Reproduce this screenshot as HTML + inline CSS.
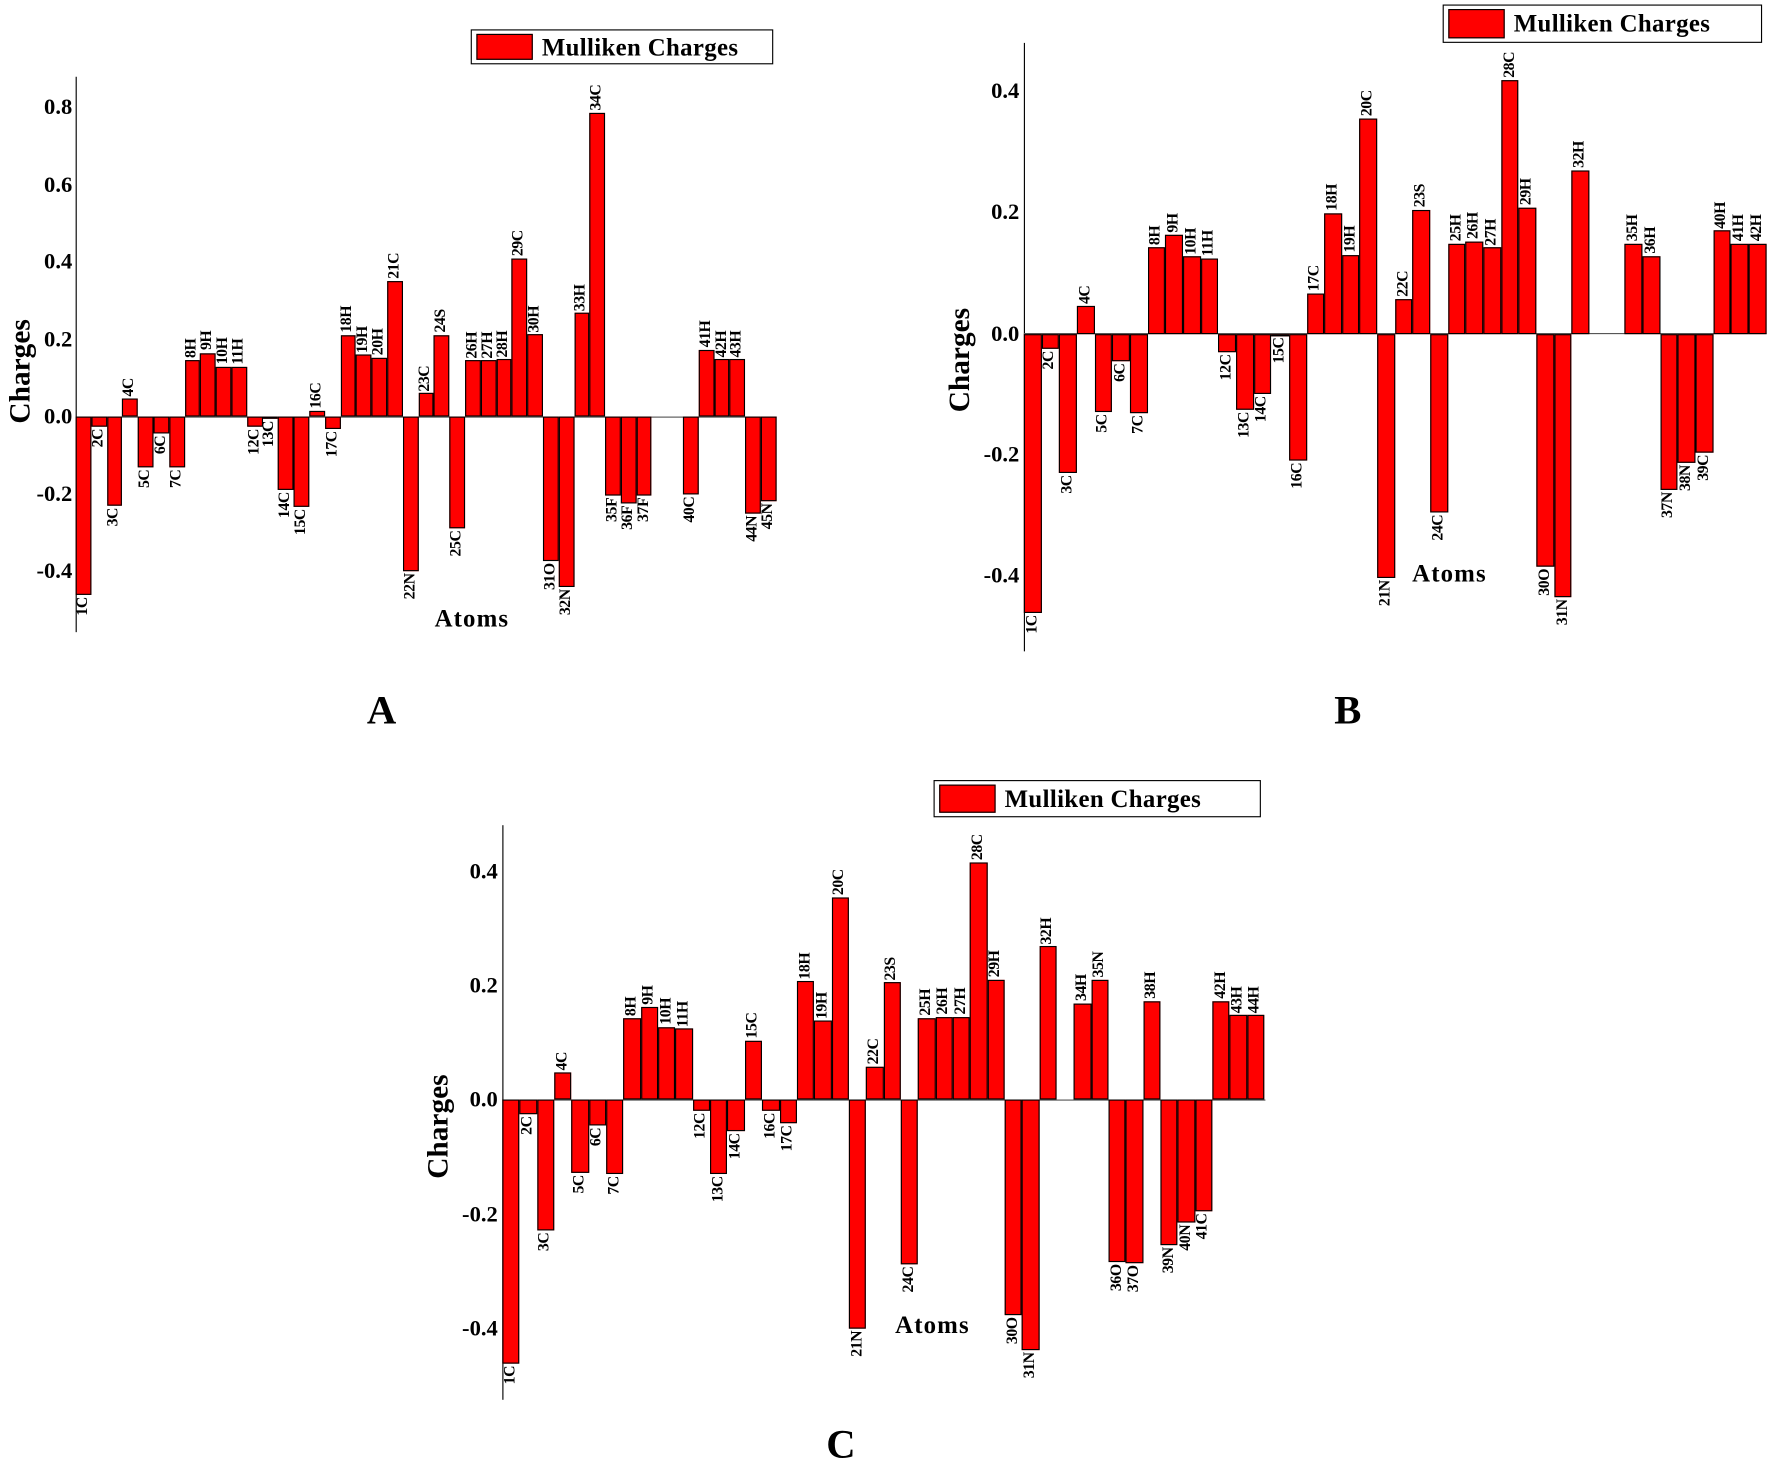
<!DOCTYPE html>
<html><head><meta charset="utf-8"><style>
html,body{margin:0;padding:0;background:#fff;}
body{width:1770px;height:1463px;overflow:hidden;position:relative;}
#v{position:absolute;left:0;top:0;width:1568px;height:1296px;transform:scale(1.12883,1.12886);transform-origin:0 0;font-family:"Liberation Serif",serif;}
.ch{position:absolute;display:flex;height:0;}
.c{position:relative;width:var(--w);height:0;flex:none;}
.c i{position:absolute;left:0;right:0;background:#f00;border:1.3px solid #000;box-sizing:border-box;}
.p i{bottom:0;height:calc(var(--v)*var(--k));}
.n i{top:0;height:calc(var(--v)*-1*var(--k));}
.c b{position:absolute;left:50%;writing-mode:vertical-rl;transform:translateX(-50%) rotate(180deg);font:bold 14px "Liberation Serif",serif;white-space:nowrap;line-height:1;letter-spacing:-0.4px;}
.p b{bottom:calc(var(--v)*var(--k) + 2px);}
.n b{top:calc(var(--v)*-1*var(--k) + 2px);}
.ax{position:absolute;width:1.3px;background:#000;}
.zl{position:absolute;height:1.3px;background:#555;}
.t{position:absolute;font-weight:bold;font-size:20px;text-align:right;width:62px;line-height:20px;}
.yl{position:absolute;font-weight:bold;font-size:26px;transform:rotate(-90deg);transform-origin:center;white-space:nowrap;}
.xl{position:absolute;font-weight:bold;font-size:22px;letter-spacing:1px;}
.lg{position:absolute;border:1.5px solid #000;box-sizing:border-box;background:#fff;}
.lg span{position:absolute;left:4px;top:3px;bottom:3px;width:50px;background:#f00;border:1.3px solid #000;box-sizing:border-box;}
.lg em{position:absolute;left:62px;top:50%;transform:translateY(-50%);font-style:normal;font-weight:bold;font-size:22px;letter-spacing:0.3px;white-space:nowrap;}
.big{position:absolute;font-weight:bold;font-size:36px;}
</style></head><body><div id="v">

<!-- Chart A -->
<div class="lg" style="left:417px;top:26px;width:268px;height:31px"><span></span><em>Mulliken Charges</em></div>
<div class="ax" style="left:67px;top:68px;height:492px"></div>
<div class="zl" style="left:67px;top:368.5px;width:621px"></div>
<div class="t" style="left:2px;top:85px">0.8</div>
<div class="t" style="left:2px;top:153.5px">0.6</div>
<div class="t" style="left:2px;top:222px">0.4</div>
<div class="t" style="left:2px;top:290.5px">0.2</div>
<div class="t" style="left:2px;top:359px">0.0</div>
<div class="t" style="left:2px;top:427.5px">-0.2</div>
<div class="t" style="left:2px;top:496px">-0.4</div>
<div class="yl" style="left:-28px;top:314px">Charges</div>
<div class="xl" style="left:385px;top:535px">Atoms</div>
<div class="big" style="left:325px;top:608px">A</div>
<div class="ch" style="left:67px;top:369px;--w:13.8px;--k:342.5px">
<div class="c n" style="--v:-.46"><i></i><b>1C</b></div>
<div class="c n" style="--v:-.025"><i></i><b>2C</b></div>
<div class="c n" style="--v:-.23"><i></i><b>3C</b></div>
<div class="c p" style="--v:.047"><i></i><b>4C</b></div>
<div class="c n" style="--v:-.13"><i></i><b>5C</b></div>
<div class="c n" style="--v:-.045"><i></i><b>6C</b></div>
<div class="c n" style="--v:-.13"><i></i><b>7C</b></div>
<div class="c p" style="--v:.145"><i></i><b>8H</b></div>
<div class="c p" style="--v:.165"><i></i><b>9H</b></div>
<div class="c p" style="--v:.128"><i></i><b>10H</b></div>
<div class="c p" style="--v:.128"><i></i><b>11H</b></div>
<div class="c n" style="--v:-.025"><i></i><b>12C</b></div>
<div class="c n" style="--v:-.005"><i></i><b>13C</b></div>
<div class="c n" style="--v:-.19"><i></i><b>14C</b></div>
<div class="c n" style="--v:-.235"><i></i><b>15C</b></div>
<div class="c p" style="--v:.015"><i></i><b>16C</b></div>
<div class="c n" style="--v:-.032"><i></i><b>17C</b></div>
<div class="c p" style="--v:.21"><i></i><b>18H</b></div>
<div class="c p" style="--v:.16"><i></i><b>19H</b></div>
<div class="c p" style="--v:.152"><i></i><b>20H</b></div>
<div class="c p" style="--v:.35"><i></i><b>21C</b></div>
<div class="c n" style="--v:-.40"><i></i><b>22N</b></div>
<div class="c p" style="--v:.06"><i></i><b>23C</b></div>
<div class="c p" style="--v:.21"><i></i><b>24S</b></div>
<div class="c n" style="--v:-.29"><i></i><b>25C</b></div>
<div class="c p" style="--v:.145"><i></i><b>26H</b></div>
<div class="c p" style="--v:.145"><i></i><b>27H</b></div>
<div class="c p" style="--v:.148"><i></i><b>28H</b></div>
<div class="c p" style="--v:.41"><i></i><b>29C</b></div>
<div class="c p" style="--v:.212"><i></i><b>30H</b></div>
<div class="c n" style="--v:-.375"><i></i><b>31O</b></div>
<div class="c n" style="--v:-.44"><i></i><b>32N</b></div>
<div class="c p" style="--v:.268"><i></i><b>33H</b></div>
<div class="c p" style="--v:.785"><i></i><b>34C</b></div>
<div class="c n" style="--v:-.205"><i></i><b>35F</b></div>
<div class="c n" style="--v:-.225"><i></i><b>36F</b></div>
<div class="c n" style="--v:-.205"><i></i><b>37F</b></div>
<div class="c"></div>
<div class="c"></div>
<div class="c n" style="--v:-.2"><i></i><b>40C</b></div>
<div class="c p" style="--v:.172"><i></i><b>41H</b></div>
<div class="c p" style="--v:.148"><i></i><b>42H</b></div>
<div class="c p" style="--v:.148"><i></i><b>43H</b></div>
<div class="c n" style="--v:-.25"><i></i><b>44N</b></div>
<div class="c n" style="--v:-.22"><i></i><b>45N</b></div>
</div>

<!-- Chart B -->
<div class="lg" style="left:1278px;top:4px;width:283px;height:34px"><span></span><em>Mulliken Charges</em></div>
<div class="ax" style="left:907px;top:38px;height:539px"></div>
<div class="zl" style="left:907px;top:295px;width:658px"></div>
<div class="t" style="left:841px;top:71px">0.4</div>
<div class="t" style="left:841px;top:178px">0.2</div>
<div class="t" style="left:841px;top:285.5px">0.0</div>
<div class="t" style="left:841px;top:393px">-0.2</div>
<div class="t" style="left:841px;top:500px">-0.4</div>
<div class="yl" style="left:804px;top:304px">Charges</div>
<div class="xl" style="left:1251px;top:495px">Atoms</div>
<div class="big" style="left:1182px;top:608px">B</div>
<div class="ch" style="left:907px;top:295.5px;--w:15.67px;--k:537px">
<div class="c n" style="--v:-.46"><i></i><b>1C</b></div>
<div class="c n" style="--v:-.025"><i></i><b>2C</b></div>
<div class="c n" style="--v:-.23"><i></i><b>3C</b></div>
<div class="c p" style="--v:.045"><i></i><b>4C</b></div>
<div class="c n" style="--v:-.13"><i></i><b>5C</b></div>
<div class="c n" style="--v:-.045"><i></i><b>6C</b></div>
<div class="c n" style="--v:-.132"><i></i><b>7C</b></div>
<div class="c p" style="--v:.142"><i></i><b>8H</b></div>
<div class="c p" style="--v:.163"><i></i><b>9H</b></div>
<div class="c p" style="--v:.127"><i></i><b>10H</b></div>
<div class="c p" style="--v:.124"><i></i><b>11H</b></div>
<div class="c n" style="--v:-.03"><i></i><b>12C</b></div>
<div class="c n" style="--v:-.125"><i></i><b>13C</b></div>
<div class="c n" style="--v:-.1"><i></i><b>14C</b></div>
<div class="c n" style="--v:-.003"><i></i><b>15C</b></div>
<div class="c n" style="--v:-.21"><i></i><b>16C</b></div>
<div class="c p" style="--v:.067"><i></i><b>17C</b></div>
<div class="c p" style="--v:.198"><i></i><b>18H</b></div>
<div class="c p" style="--v:.13"><i></i><b>19H</b></div>
<div class="c p" style="--v:.355"><i></i><b>20C</b></div>
<div class="c n" style="--v:-.403"><i></i><b>21N</b></div>
<div class="c p" style="--v:.057"><i></i><b>22C</b></div>
<div class="c p" style="--v:.204"><i></i><b>23S</b></div>
<div class="c n" style="--v:-.296"><i></i><b>24C</b></div>
<div class="c p" style="--v:.148"><i></i><b>25H</b></div>
<div class="c p" style="--v:.152"><i></i><b>26H</b></div>
<div class="c p" style="--v:.142"><i></i><b>27H</b></div>
<div class="c p" style="--v:.418"><i></i><b>28C</b></div>
<div class="c p" style="--v:.208"><i></i><b>29H</b></div>
<div class="c n" style="--v:-.385"><i></i><b>30O</b></div>
<div class="c n" style="--v:-.434"><i></i><b>31N</b></div>
<div class="c p" style="--v:.27"><i></i><b>32H</b></div>
<div class="c"></div>
<div class="c"></div>
<div class="c p" style="--v:.148"><i></i><b>35H</b></div>
<div class="c p" style="--v:.128"><i></i><b>36H</b></div>
<div class="c n" style="--v:-.258"><i></i><b>37N</b></div>
<div class="c n" style="--v:-.213"><i></i><b>38N</b></div>
<div class="c n" style="--v:-.197"><i></i><b>39C</b></div>
<div class="c p" style="--v:.17"><i></i><b>40H</b></div>
<div class="c p" style="--v:.148"><i></i><b>41H</b></div>
<div class="c p" style="--v:.148"><i></i><b>42H</b></div>
</div>

<!-- Chart C -->
<div class="lg" style="left:827px;top:691px;width:290px;height:33px"><span></span><em>Mulliken Charges</em></div>
<div class="ax" style="left:445px;top:731px;height:509px"></div>
<div class="zl" style="left:445px;top:973.7px;width:676px"></div>
<div class="t" style="left:379px;top:761.5px">0.4</div>
<div class="t" style="left:379px;top:863px">0.2</div>
<div class="t" style="left:379px;top:964.3px">0.0</div>
<div class="t" style="left:379px;top:1066px">-0.2</div>
<div class="t" style="left:379px;top:1167px">-0.4</div>
<div class="yl" style="left:342px;top:983px">Charges</div>
<div class="xl" style="left:793px;top:1161px">Atoms</div>
<div class="big" style="left:732px;top:1258px">C</div>
<div class="ch" style="left:445px;top:974.3px;--w:15.35px;--k:507px">
<div class="c n" style="--v:-.46"><i></i><b>1C</b></div>
<div class="c n" style="--v:-.025"><i></i><b>2C</b></div>
<div class="c n" style="--v:-.228"><i></i><b>3C</b></div>
<div class="c p" style="--v:.047"><i></i><b>4C</b></div>
<div class="c n" style="--v:-.128"><i></i><b>5C</b></div>
<div class="c n" style="--v:-.045"><i></i><b>6C</b></div>
<div class="c n" style="--v:-.13"><i></i><b>7C</b></div>
<div class="c p" style="--v:.142"><i></i><b>8H</b></div>
<div class="c p" style="--v:.163"><i></i><b>9H</b></div>
<div class="c p" style="--v:.127"><i></i><b>10H</b></div>
<div class="c p" style="--v:.124"><i></i><b>11H</b></div>
<div class="c n" style="--v:-.02"><i></i><b>12C</b></div>
<div class="c n" style="--v:-.13"><i></i><b>13C</b></div>
<div class="c n" style="--v:-.055"><i></i><b>14C</b></div>
<div class="c p" style="--v:.103"><i></i><b>15C</b></div>
<div class="c n" style="--v:-.02"><i></i><b>16C</b></div>
<div class="c n" style="--v:-.04"><i></i><b>17C</b></div>
<div class="c p" style="--v:.207"><i></i><b>18H</b></div>
<div class="c p" style="--v:.138"><i></i><b>19H</b></div>
<div class="c p" style="--v:.353"><i></i><b>20C</b></div>
<div class="c n" style="--v:-.40"><i></i><b>21N</b></div>
<div class="c p" style="--v:.057"><i></i><b>22C</b></div>
<div class="c p" style="--v:.205"><i></i><b>23S</b></div>
<div class="c n" style="--v:-.287"><i></i><b>24C</b></div>
<div class="c p" style="--v:.143"><i></i><b>25H</b></div>
<div class="c p" style="--v:.145"><i></i><b>26H</b></div>
<div class="c p" style="--v:.145"><i></i><b>27H</b></div>
<div class="c p" style="--v:.415"><i></i><b>28C</b></div>
<div class="c p" style="--v:.21"><i></i><b>29H</b></div>
<div class="c n" style="--v:-.377"><i></i><b>30O</b></div>
<div class="c n" style="--v:-.437"><i></i><b>31N</b></div>
<div class="c p" style="--v:.268"><i></i><b>32H</b></div>
<div class="c"></div>
<div class="c p" style="--v:.168"><i></i><b>34H</b></div>
<div class="c p" style="--v:.21"><i></i><b>35N</b></div>
<div class="c n" style="--v:-.283"><i></i><b>36O</b></div>
<div class="c n" style="--v:-.285"><i></i><b>37O</b></div>
<div class="c p" style="--v:.173"><i></i><b>38H</b></div>
<div class="c n" style="--v:-.253"><i></i><b>39N</b></div>
<div class="c n" style="--v:-.215"><i></i><b>40N</b></div>
<div class="c n" style="--v:-.195"><i></i><b>41C</b></div>
<div class="c p" style="--v:.173"><i></i><b>42H</b></div>
<div class="c p" style="--v:.148"><i></i><b>43H</b></div>
<div class="c p" style="--v:.148"><i></i><b>44H</b></div>
</div>

</div></body></html>
